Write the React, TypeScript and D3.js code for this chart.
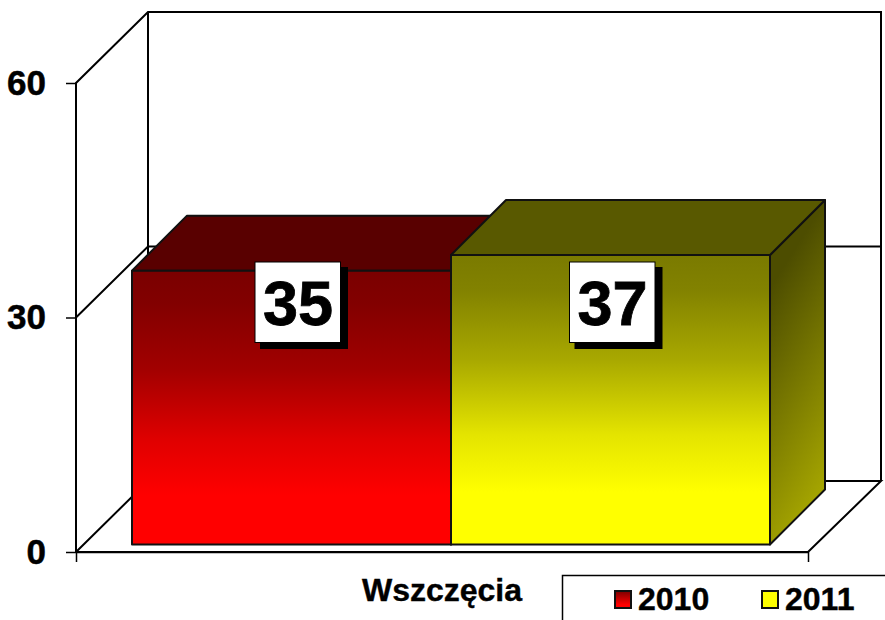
import React, { useRef, useEffect } from 'react';
import * as d3 from 'd3';

const categories = ['Wszczęcia'];
const seriesNames = ['2010', '2011'];
const seriesValues = [35, 37];
const yTicks = [0, 30, 60];
const frontStops = [0, 0.12, 0.36, 0.62, 0.82];
const frontShades = [
    ['#7a0000', '#820000', '#a20000', '#e00000', '#ff0000'],
    ['#7a7a00', '#828200', '#a8a800', '#e4e400', '#ffff00'],
];
const topColors = ['#590000', '#595900'];
const sideColors = [['#4d0000', '#a30000'], ['#4d4d00', '#a3a300']];
const swatchColors = [['#7a0000', '#ff0000'], ['#ffff00', '#ffff00']];

const width = 885;
const height = 620;
const font = '"Liberation Sans", Arial, sans-serif';

const App = () => {
    const chartRef = useRef<SVGSVGElement>(null);

    useEffect(() => {
        const svg = d3.select(chartRef.current);
        svg.selectAll('*').remove();

        const wallLeft = 76;
        const floorRight = 808;
        const wallDx = 72;
        const wallDy = 71;
        const barDx = 55;
        const barDy = 55;

        const y = d3.scaleLinear().domain([0, 60]).range([552, 83]);
        const yBar = d3.scaleLinear().domain([0, 60]).range([544.5, 75]);
        const xCat = d3.scaleBand().domain(categories).range([wallLeft, floorRight]);
        const x = d3.scaleBand().domain(seriesNames).range([132, 770]);

        // gradients
        const defs = svg.append('defs');
        seriesNames.forEach((name, i) => {
            const front = defs.append('linearGradient')
                .attr('id', `front${name}`)
                .attr('x1', 0).attr('y1', 0).attr('x2', 0).attr('y2', 1);
            frontStops.forEach((offset, k) => {
                front.append('stop').attr('offset', offset).attr('stop-color', frontShades[i][k]);
            });

            const side = defs.append('linearGradient')
                .attr('id', `side${name}`)
                .attr('x1', 0).attr('y1', 0).attr('x2', 0.25).attr('y2', 1);
            side.append('stop').attr('offset', 0.24).attr('stop-color', sideColors[i][0]);
            side.append('stop').attr('offset', 1).attr('stop-color', sideColors[i][1]);

            const swatch = defs.append('linearGradient')
                .attr('id', `swatch${name}`)
                .attr('x1', 0).attr('y1', 0).attr('x2', 0).attr('y2', 1);
            swatch.append('stop').attr('offset', 0).attr('stop-color', swatchColors[i][0]);
            swatch.append('stop').attr('offset', 0.8).attr('stop-color', swatchColors[i][1]);
        });

        // walls and floor
        const line = d3.line();
        const walls = svg.append('g').attr('fill', 'none').attr('stroke', '#000').attr('stroke-width', 2);
        const backRight = floorRight + wallDx + 1;
        const back = (v: number) => y(v) - wallDy;
        walls.append('path').attr('d', line([
            [wallLeft, y(0)], [wallLeft, y(60)], [wallLeft + wallDx, back(60)], [backRight, back(60)], [backRight, back(0)],
        ]));
        walls.append('path').attr('d', line([[wallLeft + wallDx, back(60)], [wallLeft + wallDx, back(0)]]));
        walls.selectAll('path.grid')
            .data(yTicks.filter(d => d > 0 && d < 60))
            .join('path')
            .attr('class', 'grid')
            .attr('d', d => line([[wallLeft, y(d)], [wallLeft + wallDx, back(d)], [backRight, back(d)]]));
        walls.append('path').attr('d', line([
            [wallLeft, y(0)], [wallLeft + wallDx, back(0)], [backRight, back(0)], [floorRight, y(0)], [wallLeft, y(0)],
        ]));

        // bars
        const bars = svg.append('g').attr('stroke', '#111').attr('stroke-width', 2).attr('stroke-linejoin', 'round');
        seriesNames.forEach((name, i) => {
            const x0 = x(name)!;
            const x1 = x0 + x.bandwidth();
            const yTop = yBar(seriesValues[i]);
            const yBase = yBar(0);
            bars.append('path')
                .attr('fill', `url(#side${name})`)
                .attr('d', line([[x1, yTop], [x1 + barDx, yTop - barDy], [x1 + barDx, yBase - barDy], [x1, yBase]]) + 'Z');
            bars.append('path')
                .attr('fill', topColors[i])
                .attr('d', line([[x0, yTop], [x0 + barDx, yTop - barDy], [x1 + barDx, yTop - barDy], [x1, yTop]]) + 'Z');
            bars.append('rect')
                .attr('x', x0).attr('y', yTop)
                .attr('width', x.bandwidth()).attr('height', yBase - yTop)
                .attr('fill', `url(#front${name})`);
        });

        // axes
        const yAxis = svg.append('g')
            .attr('transform', `translate(${wallLeft},0)`)
            .call(d3.axisLeft(y).tickValues(yTicks).tickSizeInner(10).tickSizeOuter(0).tickPadding(20));
        yAxis.select('.domain').remove();
        yAxis.selectAll('line').attr('stroke', '#000').attr('stroke-width', 1.5);
        yAxis.selectAll('text')
            .attr('font-family', font).attr('font-weight', 700).attr('font-size', 35).attr('fill', '#000')
            .attr('stroke', '#000').attr('stroke-width', 0.5);

        const xAxis = svg.append('g')
            .attr('transform', `translate(0,${y(0)})`)
            .call(d3.axisBottom(xCat).tickSizeInner(0).tickSizeOuter(10).tickPadding(26));
        xAxis.select('.domain').attr('stroke', '#000').attr('stroke-width', 1.5);
        xAxis.selectAll('text')
            .attr('font-family', font).attr('font-weight', 700).attr('font-size', 32).attr('fill', '#000')
            .attr('stroke', '#000').attr('stroke-width', 0.4);

        // data labels
        const labelNudge = [6.5, 2];
        const labels = svg.append('g').selectAll('g')
            .data(seriesValues)
            .join('g')
            .attr('transform', (d, i) => `translate(${x(seriesNames[i])! + x.bandwidth() / 2 + labelNudge[i]},302)`);
        labels.append('rect')
            .attr('x', -38).attr('y', -35).attr('width', 88).attr('height', 82).attr('fill', '#000');
        labels.append('rect')
            .attr('x', -43).attr('y', -40).attr('width', 85.5).attr('height', 80.5)
            .attr('fill', '#fff').attr('stroke', '#000').attr('stroke-width', 1);
        labels.append('text')
            .attr('text-anchor', 'middle').attr('y', 23)
            .attr('font-family', font).attr('font-weight', 700).attr('font-size', 63)
            .attr('stroke', '#000').attr('stroke-width', 0.8)
            .text(d => d);

        // legend
        const legend = svg.append('g');
        legend.append('path')
            .attr('d', line([[562.5, height], [562.5, 575.5], [width, 575.5]]))
            .attr('fill', 'none').attr('stroke', '#000').attr('stroke-width', 1.5);
        const legendX = d3.scalePoint().domain(seriesNames).range([615, 762]);
        const item = legend.selectAll('g').data(seriesNames).join('g')
            .attr('transform', d => `translate(${legendX(d)},591)`);
        item.append('rect')
            .attr('width', 16).attr('height', 17)
            .attr('fill', d => `url(#swatch${d})`)
            .attr('stroke', '#111').attr('stroke-width', 2);
        item.append('text')
            .attr('x', 23).attr('y', 19)
            .attr('font-family', font).attr('font-weight', 700).attr('font-size', 32)
            .attr('stroke', '#000').attr('stroke-width', 0.4)
            .text(d => d);
    }, []);

    return <svg ref={chartRef} width={width} height={height} style={{ position: 'absolute', left: 0, top: 0, background: '#fff' }}></svg>;
};

export default App;
